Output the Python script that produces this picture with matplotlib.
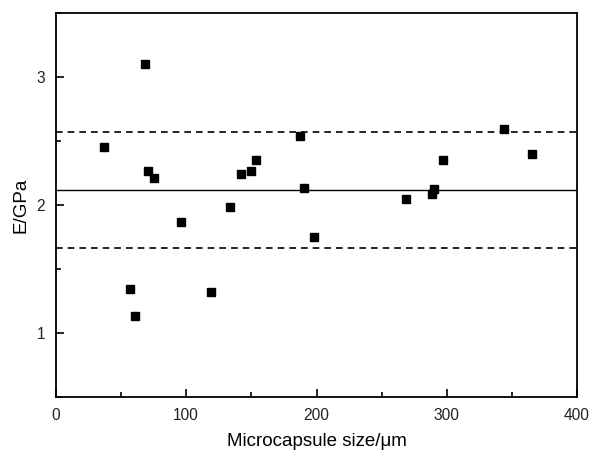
import matplotlib
matplotlib.use("Agg")
import matplotlib.pyplot as plt
from matplotlib.ticker import MultipleLocator

plt.rcParams["font.family"] = ["Liberation Sans", "DejaVu Sans"]

# microcapsule diameter (um) and elastic modulus (GPa)
size_um = [36.7, 68.7, 70.5, 74.9, 95.9, 56.7, 60.5, 119.0, 133.6, 142.3,
           150.0, 153.6, 187.7, 190.3, 198.0, 269.0, 289.0, 290.2, 297.2,
           343.6, 365.1]
modulus_gpa = [2.45, 3.10, 2.266, 2.213, 1.87, 1.344, 1.135, 1.323, 1.982,
               2.24, 2.268, 2.35, 2.54, 2.135, 1.748, 2.047, 2.086, 2.125,
               2.35, 2.596, 2.40]

mean_e = 2.117
spread = 0.452

fig = plt.figure(figsize=(5.9, 4.51), dpi=100)
ax = fig.add_axes([56 / 590, 1 - 397 / 451, 521 / 590, 384 / 451])

ax.axhline(mean_e, color="black", linewidth=1.0)
ax.axhline(mean_e + spread, color="black", linewidth=1.2, linestyle=(0, (4, 3)))
ax.axhline(mean_e - spread, color="black", linewidth=1.2, linestyle=(0, (4, 3)))
ax.plot(size_um, modulus_gpa, "s", color="black", markersize=5.8, zorder=3)

ax.set_xlim(0, 400)
ax.set_ylim(0.5, 3.5)
ax.xaxis.set_major_locator(MultipleLocator(100))
ax.xaxis.set_minor_locator(MultipleLocator(50))
ax.yaxis.set_major_locator(MultipleLocator(1))
ax.yaxis.set_minor_locator(MultipleLocator(0.5))
ax.tick_params(which="both", direction="in", width=1.2, labelsize=11.2,
               labelcolor="#222222")
ax.tick_params(which="major", length=6, pad=8)
ax.tick_params(which="minor", length=3.5)
for sp in ax.spines.values():
    sp.set_linewidth(1.3)

ax.set_xlabel("Microcapsule size/\u03bcm", fontsize=13.5, labelpad=7)
ax.set_ylabel("E/GPa", fontsize=13.5, labelpad=5)

fig.savefig("out.png", dpi=100)
